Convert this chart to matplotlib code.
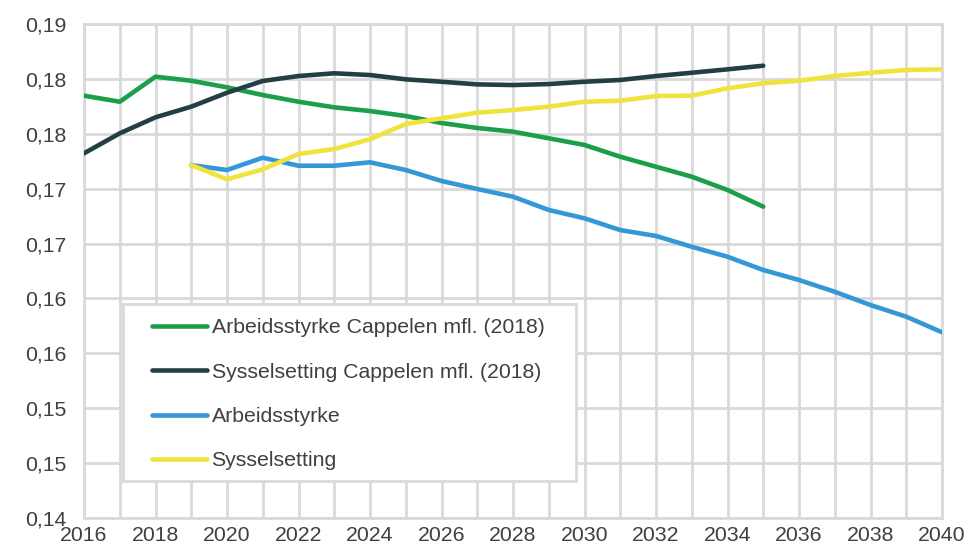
import matplotlib
matplotlib.use("Agg")
import matplotlib.pyplot as plt
from matplotlib.patches import Rectangle
from matplotlib.ticker import MultipleLocator, FuncFormatter

# ---------------------------------------------------------
# data

years_cap = list(range(2016, 2036))
years_new = list(range(2019, 2041))

arb_cappelen = [0.17847, 0.17792, 0.18020, 0.17983, 0.17923, 0.17853, 0.17792,
                0.17741, 0.17707, 0.17662, 0.17598, 0.17553, 0.17519, 0.17459,
                0.17398, 0.17291, 0.17200, 0.17109, 0.16988, 0.16836]
sys_cappelen = [0.17322, 0.17504, 0.17650, 0.17747, 0.17874, 0.17981, 0.18026,
                0.18051, 0.18035, 0.17996, 0.17974, 0.17950, 0.17944, 0.17953,
                0.17974, 0.17990, 0.18026, 0.18056, 0.18087, 0.18120]
arbeidsstyrke = [0.17215, 0.17170, 0.17282, 0.17209, 0.17209, 0.17240, 0.17170,
                 0.17070, 0.16997, 0.16927, 0.16806, 0.16730, 0.16623, 0.16569,
                 0.16471, 0.16380, 0.16259, 0.16168, 0.16061, 0.15940, 0.15834,
                 0.15692]
sysselsetting = [0.17215, 0.17085, 0.17176, 0.17316, 0.17361, 0.17450, 0.17589,
                 0.17641, 0.17692, 0.17716, 0.17747, 0.17792, 0.17801, 0.17844,
                 0.17847, 0.17914, 0.17960, 0.17983, 0.18026, 0.18056, 0.18081,
                 0.18087]

labels = ["Arbeidsstyrke Cappelen mfl. (2018)",
          "Sysselsetting Cappelen mfl. (2018)",
          "Arbeidsstyrke",
          "Sysselsetting"]
colors = ["#1c9e4a", "#243f44", "#3498d6", "#f1e33e"]

# ---------------------------------------------------------

plt.rcParams['font.family'] = ['Liberation Sans', 'DejaVu Sans']
grid_col = "#d9d9d9"
text_col = "#404040"
W, H = 967, 545

fig = plt.figure(figsize=(W/100, H/100), dpi=100)
ax = fig.add_axes([84/W, 27/H, (942-84)/W, (518-24)/H])

series = [(years_cap, arb_cappelen), (years_cap, sys_cappelen),
          (years_new, arbeidsstyrke), (years_new, sysselsetting)]
for (x, y), lab, c in zip(series, labels, colors):
  ax.plot(x, y, color=c, lw=3.3, label=lab, solid_capstyle='round', zorder=3)

ax.set_xlim(2016, 2040)
ax.set_ylim(0.14, 0.185)
ax.xaxis.set_major_locator(MultipleLocator(2))
ax.xaxis.set_minor_locator(MultipleLocator(1))
ax.yaxis.set_major_locator(MultipleLocator(0.005))

def fmt_y(v, pos):
  return f"{round(v + 1e-9, 2):.2f}".replace('.', ',')

ax.yaxis.set_major_formatter(FuncFormatter(fmt_y))
ax.xaxis.set_major_formatter(FuncFormatter(lambda v, p: f"{int(round(v))}"))

ax.grid(True, which='both', color=grid_col, lw=2)
ax.set_axisbelow(True)
for s in ax.spines.values():
  s.set_color(grid_col)
  s.set_linewidth(2)
ax.tick_params(which='both', length=0, labelsize=15.3, colors=text_col)
ax.tick_params(axis='x', pad=6)
ax.tick_params(axis='y', pad=12.5)

# legend frame drawn separately (wider side padding than matplotlib gives)
box = Rectangle((123/W, 1 - 481/H), (576-123)/W, (481-304)/H,
                transform=fig.transFigure, facecolor='white',
                edgecolor=grid_col, lw=2, zorder=4, clip_on=False)
ax.add_patch(box)

leg = ax.legend(loc='upper left', bbox_to_anchor=(152/W, 1 - 318/H),
                bbox_transform=fig.transFigure, frameon=False,
                fontsize=15.3, handlelength=2.6, handletextpad=0.2,
                labelspacing=1.2, borderpad=0, borderaxespad=0)
leg.set_zorder(5)
for t in leg.get_texts():
  t.set_color(text_col)

fig.savefig("out.png", dpi=100)
